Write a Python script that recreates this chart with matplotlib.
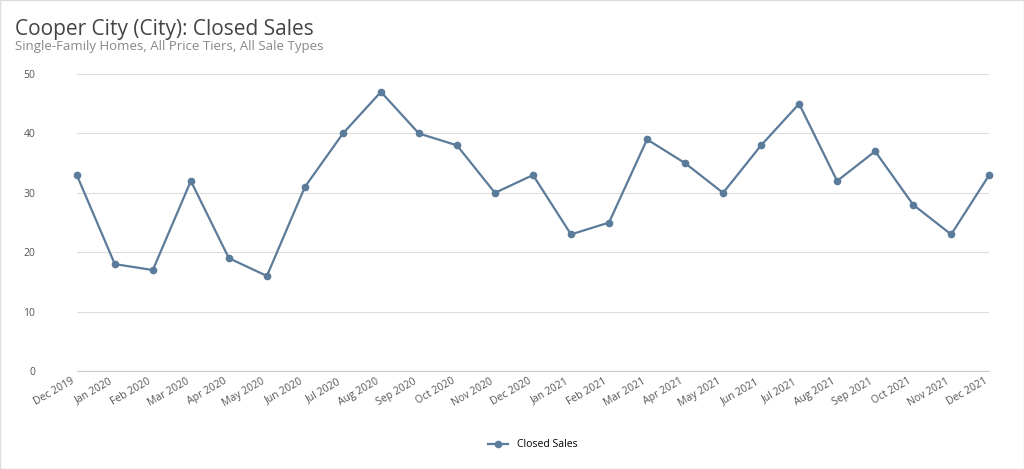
import matplotlib
matplotlib.use("Agg")
import matplotlib.pyplot as plt
from matplotlib.patches import Rectangle

months = ["Dec 2019","Jan 2020","Feb 2020","Mar 2020","Apr 2020","May 2020","Jun 2020","Jul 2020",
          "Aug 2020","Sep 2020","Oct 2020","Nov 2020","Dec 2020","Jan 2021","Feb 2021","Mar 2021",
          "Apr 2021","May 2021","Jun 2021","Jul 2021","Aug 2021","Sep 2021","Oct 2021","Nov 2021","Dec 2021"]
closed_sales = [33,18,17,32,19,16,31,40,47,40,38,30,33,23,25,39,35,30,38,45,32,37,28,23,33]
yticks = [0,10,20,30,40,50]

plt.rcParams["font.family"] = "Open Sans"
fig = plt.figure(figsize=(10.24,4.69), dpi=100)
fig.patches.append(Rectangle((0,0),1,1,transform=fig.transFigure,fill=False,edgecolor="#dddddd",lw=1))
ax = fig.add_axes([0.075,0.209,0.891,0.633])
color = "#5b7b9a"
x = list(range(len(months)))
ax.plot(x, closed_sales, color=color, lw=1.6, marker="o", ms=4.5, label="Closed Sales", clip_on=False)
ax.set_xlim(0, len(months)-1)
ax.set_ylim(0,50)
ax.set_yticks(yticks)
ax.set_xticks(x)
ax.set_xticklabels(months, rotation=30, ha="right", fontsize=7.5, color="#555555")
ax.tick_params(axis="y", labelsize=7.5, colors="#555555", length=0, pad=30)
ax.tick_params(axis="x", length=0)
ax.grid(axis="y", color="#dddddd", lw=0.8)
for s in ["top","right","left"]:
    ax.spines[s].set_visible(False)
ax.spines["bottom"].set_color("#cccccc")
fig.text(0.015,0.96,"Cooper City (City): Closed Sales", fontsize=15, color="#444444", va="top")
fig.text(0.015,0.915,"Single-Family Homes, All Price Tiers, All Sale Types", fontsize=9.5, color="#888888", va="top")
fig.legend(loc="lower center", bbox_to_anchor=(0.52,0.02), frameon=False, fontsize=7.5)
fig.savefig("out.png", dpi=100)
